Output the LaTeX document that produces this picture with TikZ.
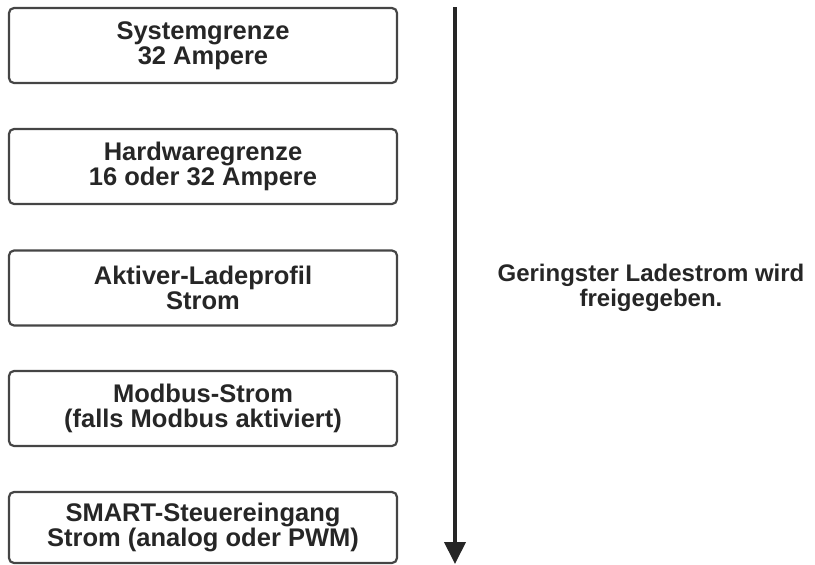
\documentclass[tikz,border=0pt]{standalone}
\usepackage{fontspec}
\setmainfont{Liberation Sans}
\usetikzlibrary{arrows.meta}

\definecolor{boxgray}{HTML}{454545}
\definecolor{textgray}{HTML}{262626}

\tikzset{
  limitbox/.style={draw=boxgray, line width=2.2pt, rounded corners=5pt,
    minimum width=388pt, minimum height=75pt, inner sep=0pt,
    align=center, text=textgray, font=\bfseries\fontsize{25.5}{25.5}\selectfont},
  notetext/.style={align=center, text=textgray, font=\bfseries\fontsize{24}{25.5}\selectfont},
}

\begin{document}
\begin{tikzpicture}[x=1pt,y=-1pt]

\useasboundingbox (0,0) rectangle (815,565);

% current limits, top to bottom
\foreach \n/\y/\txt in {1/45.5/{Systemgrenze\\32 Ampere},
                        2/166.5/{Hardwaregrenze\\16 oder 32 Ampere},
                        3/288/{Aktiver-Ladeprofil\\Strom},
                        4/408.5/{Modbus-Strom\\(falls Modbus aktiviert)}}
	\node[limitbox] (box\n) at (203,\y) {\txt};
\node[limitbox, minimum height=71pt] (box5) at (203,527.5) {SMART-Steuereingang\\Strom (analog oder PWM)};

% arrow
\coordinate (arrowtop) at (455,7);
\coordinate (arrowend) at (455,564);
\draw[line width=4pt, draw=textgray, -{Triangle[width=21pt,length=22pt]}] (arrowtop) -- (arrowend);

\node[notetext] (note) at (651,288) {Geringster Ladestrom wird\\freigegeben.};

\end{tikzpicture}
\end{document}
